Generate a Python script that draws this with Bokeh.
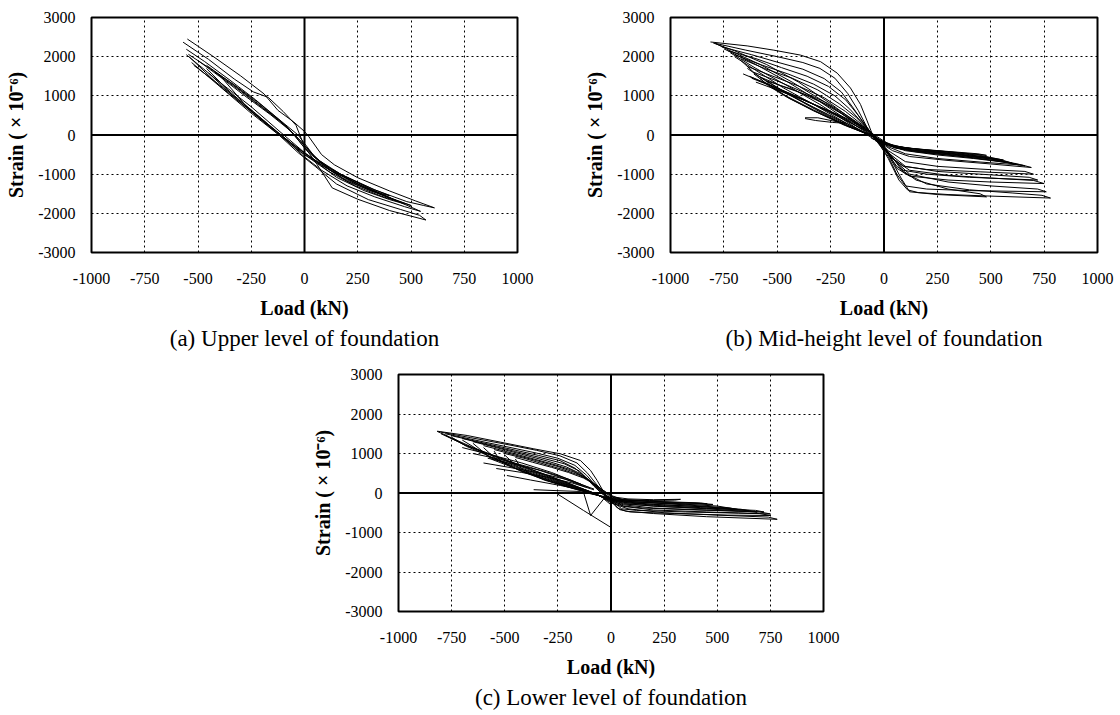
from bokeh.plotting import figure
from bokeh.layouts import column, row
from bokeh.models import Span, Title, Range1d, FixedTicker, Spacer
from bokeh.embed import file_html
from bokeh.resources import INLINE

# Axis ticks shared by all three panels
X_TICKS = [-1000, -750, -500, -250, 0, 250, 500, 750, 1000]
X_TICK_LABELS = ["-1000", "-750", "-500", "-250", "0", "250", "500", "750", "1000"]
Y_TICKS = [-3000, -2000, -1000, 0, 1000, 2000, 3000]
Y_TICK_LABELS = ["-3000", "-2000", "-1000", "0", "1000", "2000", "3000"]

X_LABEL = "Load (kN)"
Y_LABEL = "Strain ( \u00d7 10\u207b\u2076)"

CAPTION_A = "(a) Upper level of foundation"
CAPTION_B = "(b) Mid-height level of foundation"
CAPTION_C = "(c) Lower level of foundation"

# (a) Upper level: load (kN) / strain (x1e-6) per loading cycle
A_LOAD = [
    [-550, -430, -300, -190, -125, -50, 0, 20, 80, 140, 250, 400, 520, 610, 560, 480, 330, 170, 50, 0, -110, -250, -410, -555],
    [-570, -450, -330, -240, -170, -100, -40, 0, 60, 130, 250, 400, 570, 540, 450, 300, 150, 50, -30, -120, -260, -400, -530],
    [-555, -470, -350, -230, -120, -30, 40, 120, 250, 400, 545, 470, 330, 200, 80, 0, -100, -240, -380, -520],
    [-545, -450, -330, -220, -110, -20, 50, 150, 280, 400, 500, 420, 300, 180, 60, -20, -130, -260, -400, -540],
    [-500, -400, -280, -160, -60, 10, 100, 220, 350, 470, 400, 280, 150, 40, -60, -180, -320, -450],
    [-460, -350, -230, -120, -30, 60, 170, 300, 440, 360, 240, 110, 0, -100, -230, -360, -460],
    [-420, -300, -180, -80, 0, 90, 200, 320, 400, 320, 200, 80, -20, -130, -260, -400],
]
A_STRAIN = [
    [2450, 2010, 1510, 1050, 630, 330, 90, -40, -500, -760, -1090, -1430, -1680, -1860, -1800, -1700, -1400, -1000, -640, -450, 60, 720, 1400, 2050],
    [2370, 1930, 1430, 1100, 960, 600, 250, -300, -760, -1350, -1640, -1930, -2170, -2050, -1900, -1650, -1250, -800, -450, 0, 600, 1250, 1850],
    [2190, 1880, 1400, 900, 400, 0, -500, -900, -1250, -1600, -1950, -1830, -1580, -1300, -900, -560, -60, 600, 1200, 1780],
    [2060, 1720, 1280, 840, 350, -150, -580, -960, -1330, -1600, -1800, -1650, -1400, -1100, -700, -430, 50, 640, 1260, 1990],
    [1900, 1500, 1000, 520, 80, -400, -820, -1180, -1500, -1760, -1650, -1420, -1080, -620, -220, 290, 920, 1580],
    [1780, 1350, 850, 380, -80, -620, -1000, -1350, -1700, -1560, -1300, -920, -500, -40, 540, 1150, 1700],
    [1600, 1120, 620, 200, -320, -760, -1090, -1380, -1550, -1440, -1180, -760, -380, 80, 650, 1540],
]

# (b) Mid-height level
B_LOAD = [
    [-813, -641, -516, -391, -297, -219, -157, -110, -79, -55, -25, 20, 70, 110, 160, 300, 500, 780, 740, 600, 400, 200, 90, 30, -20, -100, -250, -400, -550, -700, -800],
    [-790, -650, -500, -380, -300, -230, -170, -120, -80, -40, 20, 60, 100, 200, 400, 760, 720, 500, 300, 120, 40, -30, -120, -280, -430, -580, -720, -790],
    [-760, -620, -500, -380, -280, -200, -140, -90, -40, 20, 80, 120, 250, 480, 450, 300, 150, 60, 0, -50, -150, -300, -450, -600, -750],
    [-730, -600, -480, -360, -260, -180, -120, -60, -20, 20, 60, 120, 300, 500, 750, 700, 500, 300, 120, 40, -20, -150, -300, -450, -600, -720],
    [-700, -580, -450, -330, -230, -160, -100, -50, -10, 30, 90, 200, 400, 720, 680, 450, 250, 100, 20, -40, -160, -320, -470, -600, -700],
    [-670, -560, -430, -310, -210, -130, -60, -10, 30, 90, 200, 450, 700, 660, 450, 250, 100, 20, -40, -170, -330, -480, -600, -670],
    [-640, -520, -400, -280, -180, -100, -50, -10, 40, 120, 300, 500, 690, 650, 450, 250, 100, 20, -40, -170, -320, -450, -560, -640],
    [-610, -500, -380, -260, -160, -80, -20, 50, 150, 320, 500, 660, 620, 420, 250, 100, 20, -40, -180, -330, -460, -560, -610],
    [-580, -480, -350, -240, -140, -70, -20, 50, 150, 330, 500, 630, 590, 400, 220, 80, 10, -50, -190, -330, -450, -540, -580],
    [-550, -420, -300, -200, -120, -50, 30, 130, 300, 480, 600, 560, 380, 200, 60, -10, -60, -200, -330, -440, -520, -550],
    [-630, -500, -360, -220, -100, -30, 60, 200, 400, 550, 500, 300, 100, 0, -120, -260, -400, -520, -620],
    [-370, -310, -240, -180, -240, -320, -370],
    [-40, 50, 150, 300, 450, 560, 520, 350, 150, 20, -50],
    [-50, 60, 200, 350, 480, 440, 300, 120, 0, -60],
    [-660, -560, -450, -330, -200, -90],
    [-600, -500, -380, -260, -150, -60],
    [-520, -420, -300, -190, -90],
]
B_STRAIN = [
    [2375, 2275, 2166, 2040, 1872, 1579, 1200, 780, 360, 25, -200, -600, -1150, -1400, -1470, -1520, -1560, -1610, -1540, -1480, -1400, -1250, -950, -500, -150, 200, 800, 1350, 1800, 2150, 2350],
    [2340, 2170, 2000, 1850, 1700, 1450, 1060, 620, 200, -120, -550, -1000, -1300, -1380, -1420, -1450, -1380, -1300, -1200, -1000, -600, -120, 250, 850, 1350, 1800, 2150, 2340],
    [2250, 2050, 1860, 1680, 1440, 1100, 660, 250, -100, -500, -1100, -1450, -1520, -1580, -1500, -1380, -1150, -800, -350, -50, 300, 850, 1350, 1800, 2200],
    [2150, 1950, 1720, 1500, 1240, 900, 500, 50, -200, -450, -850, -1050, -1150, -1200, -1240, -1160, -1100, -1030, -900, -600, -200, 250, 780, 1250, 1700, 2100],
    [2050, 1800, 1560, 1300, 1000, 660, 300, 0, -250, -500, -900, -1000, -1080, -1150, -1080, -1000, -930, -800, -450, -80, 250, 750, 1200, 1650, 2000],
    [1950, 1700, 1450, 1150, 800, 450, 50, -250, -550, -800, -880, -940, -1000, -930, -870, -800, -680, -400, -80, 250, 700, 1150, 1550, 1900],
    [1750, 1500, 1250, 950, 600, 250, 0, -220, -400, -550, -650, -740, -830, -770, -690, -600, -480, -300, -60, 220, 650, 1050, 1400, 1700],
    [1600, 1380, 1100, 800, 450, 150, -150, -330, -430, -520, -640, -790, -730, -600, -510, -400, -250, -50, 250, 640, 1000, 1350, 1560],
    [1480, 1250, 1000, 700, 350, 100, -130, -320, -400, -490, -610, -760, -700, -570, -470, -360, -220, -30, 260, 620, 950, 1250, 1440],
    [1380, 1150, 850, 550, 250, 20, -260, -380, -460, -560, -720, -650, -540, -440, -330, -180, 0, 300, 620, 930, 1200, 1350],
    [1500, 1200, 870, 500, 150, -100, -300, -390, -500, -650, -600, -470, -330, -200, 150, 520, 900, 1230, 1450],
    [440, 440, 360, 300, 320, 370, 420],
    [-150, -280, -360, -430, -520, -640, -600, -500, -400, -280, -100],
    [-100, -300, -380, -450, -520, -480, -420, -340, -230, -80],
    [1560, 1330, 1080, 780, 430, 120],
    [1350, 1150, 900, 620, 330, 60],
    [1200, 990, 720, 460, 200],
]

# (c) Lower level
C_LOAD = [
    [-818, -677, -520, -363, -238, -144, -96, -65, -34, -10, 30, 70, 200, 450, 782, 740, 500, 250, 80, 0, -60, -200, -350, -500, -650, -760, -818],
    [-800, -660, -500, -350, -240, -160, -110, -70, -35, -5, 40, 90, 300, 550, 750, 700, 450, 200, 60, -10, -80, -220, -370, -520, -680, -800],
    [-780, -640, -490, -350, -250, -170, -115, -75, -35, 0, 50, 120, 350, 600, 750, 700, 450, 200, 60, -10, -90, -240, -390, -540, -690, -780],
    [-750, -620, -480, -340, -240, -170, -120, -80, -40, 0, 60, 150, 400, 600, 720, 680, 450, 220, 70, -10, -100, -250, -400, -550, -680, -750],
    [-700, -580, -450, -320, -220, -150, -105, -70, -35, 0, 60, 200, 450, 688, 650, 420, 200, 60, -10, -110, -260, -410, -560, -700],
    [-650, -540, -420, -300, -210, -140, -95, -60, -25, 10, 80, 250, 450, 650, 610, 400, 200, 60, -20, -120, -270, -420, -560, -650],
    [-600, -500, -390, -280, -190, -130, -85, -50, -15, 20, 100, 300, 500, 600, 560, 350, 150, 30, -40, -140, -280, -420, -540, -600],
    [-550, -450, -350, -250, -170, -110, -70, -35, 0, 60, 200, 350, 453, 420, 250, 100, 10, -60, -160, -290, -420, -520, -550],
    [-500, -410, -320, -230, -150, -95, -55, -20, 10, 80, 200, 327, 300, 180, 60, -20, -90, -190, -310, -420, -500],
    [-450, -370, -280, -200, -130, -80, -40, 0, 60, 250, 400, 480, 400, 250, 80, 0, -80, -200, -320, -420, -450],
    [-490, -380, -238, -120, -30],
    [-364, -254, -150, -60],
    [-253, -130, -2],
    [-130, -96, -34, 0],
    [-600, -480, -350, -200, -80],
    [-540, -420, -300, -180, -80],
    [-650, -520, -380, -250, -120],
    [-700, -560, -420, -280, -140],
    [-580, -450, -320, -200, -100],
]
C_STRAIN = [
    [1565, 1456, 1287, 1118, 992, 823, 570, 316, 21, -148, -380, -460, -520, -600, -666, -610, -560, -500, -400, -250, -50, 250, 550, 850, 1150, 1420, 1560],
    [1540, 1400, 1240, 1080, 940, 760, 500, 230, 0, -160, -420, -480, -520, -560, -570, -520, -480, -430, -340, -200, 0, 280, 580, 880, 1200, 1500],
    [1500, 1340, 1170, 1010, 880, 700, 450, 200, -20, -170, -400, -440, -480, -510, -530, -480, -430, -380, -300, -180, 20, 300, 600, 900, 1220, 1460],
    [1450, 1290, 1120, 950, 820, 630, 400, 170, -30, -180, -330, -380, -430, -460, -480, -440, -390, -340, -270, -170, 30, 300, 590, 880, 1180, 1410],
    [1380, 1220, 1050, 880, 740, 560, 330, 130, -40, -170, -280, -330, -400, -485, -440, -370, -310, -240, -160, 50, 300, 580, 880, 1340],
    [1300, 1150, 980, 810, 660, 480, 280, 100, -60, -170, -250, -300, -350, -450, -410, -340, -290, -220, -140, 60, 300, 560, 850, 1260],
    [1200, 1060, 900, 740, 590, 420, 240, 70, -80, -170, -220, -270, -330, -420, -380, -300, -240, -190, -100, 80, 300, 560, 850, 1150],
    [1100, 960, 820, 670, 520, 360, 190, 40, -100, -170, -210, -250, -274, -250, -220, -190, -150, -60, 100, 300, 540, 800, 1060],
    [1000, 880, 740, 600, 450, 300, 140, 0, -100, -150, -170, -160, -180, -190, -170, -110, -20, 130, 320, 560, 960],
    [900, 780, 650, 520, 380, 230, 80, -60, -180, -240, -260, -290, -280, -260, -220, -150, -30, 150, 350, 600, 860],
    [443, 330, 190, 60, -120],
    [84, 59, 40, -60],
    [-21, -440, -866],
    [30, -570, -148, -300],
    [760, 650, 520, 330, 100],
    [620, 520, 400, 250, 80],
    [1000, 850, 650, 420, 150],
    [1150, 960, 760, 520, 220],
    [880, 720, 560, 350, 130],
]

SERIF = "Liberation Serif"


def make_panel(loads, strains, caption, width, height, left, right, top, bottom):
    p = figure(
        width=width, height=height,
        x_range=Range1d(-1000, 1000), y_range=Range1d(-3000, 3000),
        output_backend="svg", toolbar_location=None,
        min_border_left=left, min_border_right=right,
        min_border_top=top, min_border_bottom=bottom,
        background_fill_color="white", border_fill_color="white",
    )
    p.outline_line_color = "black"
    p.outline_line_width = 2

    # hysteresis loops
    p.multi_line(xs=loads, ys=strains, line_color="black", line_width=1)

    # load / strain zero lines
    p.add_layout(Span(location=0, dimension="height", line_color="black", line_width=2))
    p.add_layout(Span(location=0, dimension="width", line_color="black", line_width=2))

    p.xaxis.ticker = FixedTicker(ticks=X_TICKS)
    p.yaxis.ticker = FixedTicker(ticks=Y_TICKS)
    p.xaxis.major_label_overrides = dict(zip(X_TICKS, X_TICK_LABELS))
    p.yaxis.major_label_overrides = dict(zip(Y_TICKS, Y_TICK_LABELS))

    for ax in (p.xaxis[0], p.yaxis[0]):
        ax.axis_line_color = None
        ax.major_tick_line_color = None
        ax.minor_tick_line_color = None
        ax.major_label_text_font = SERIF
        ax.major_label_text_font_size = "16px"
        ax.major_label_text_color = "black"
        ax.axis_label_text_font = SERIF
        ax.axis_label_text_font_style = "bold"
        ax.axis_label_text_font_size = "20px"
        ax.axis_label_text_color = "black"

    p.xaxis.axis_label = X_LABEL
    p.yaxis.axis_label = Y_LABEL
    p.xaxis.major_label_standoff = 14
    p.xaxis.axis_label_standoff = 10
    p.yaxis.major_label_standoff = 10
    p.yaxis.axis_label_standoff = 8

    p.xgrid.ticker = FixedTicker(ticks=X_TICKS)
    p.ygrid.ticker = FixedTicker(ticks=Y_TICKS)
    p.grid.grid_line_color = "black"
    p.grid.grid_line_width = 1
    p.grid.grid_line_dash = "2 3"

    p.add_layout(Title(text=caption, text_font=SERIF, text_font_size="23px",
                       text_font_style="normal", text_color="black",
                       align="center", standoff=4), "below")
    return p


pa = make_panel(A_LOAD, A_STRAIN, CAPTION_A, 560, 360, 91, 43, 15, 108)
pb = make_panel(B_LOAD, B_STRAIN, CAPTION_B, 560, 360, 110, 23, 17, 106)
pc = make_panel(C_LOAD, C_STRAIN, CAPTION_C, 560, 355, 98, 37, 14, 104)

layout = column(row(pa, pb, spacing=0), row(Spacer(width=300, height=355), pc, spacing=0), spacing=0)

open("out.html", "w").write(file_html(layout, INLINE))
